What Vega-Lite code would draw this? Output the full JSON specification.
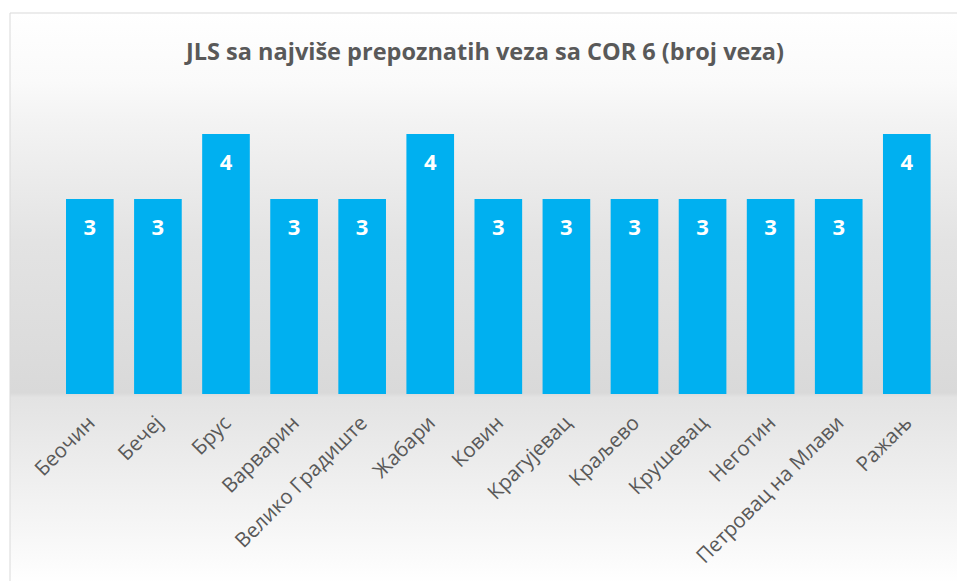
{
  "$schema": "https://vega.github.io/schema/vega-lite/v6.json",
  "width": 950,
  "height": 572,
  "autosize": {"type": "none"},
  "padding": {"left": 10, "top": 13, "right": 0, "bottom": 0},
  "background": "white",
  "config": {"view": {"stroke": "transparent"}},
  "title": {
    "text": "JLS sa najviše prepoznatih veza sa COR 6 (broj veza)",
    "font": "Open Sans",
    "fontSize": 23.5,
    "fontWeight": "bold",
    "color": "#595959",
    "anchor": "middle",
    "offset": -52
  },
  "data": {
    "values": [
      {"name": "Беочин", "value": 3},
      {"name": "Бечеј", "value": 3},
      {"name": "Брус", "value": 4},
      {"name": "Варварин", "value": 3},
      {"name": "Велико Градиште", "value": 3},
      {"name": "Жабари", "value": 4},
      {"name": "Ковин", "value": 3},
      {"name": "Крагујевац", "value": 3},
      {"name": "Краљево", "value": 3},
      {"name": "Крушевац", "value": 3},
      {"name": "Неготин", "value": 3},
      {"name": "Петровац на Млави", "value": 3},
      {"name": "Ражањ", "value": 4}
    ]
  },
  "encoding": {
    "x": {
      "field": "name",
      "type": "nominal",
      "sort": null,
      "axis": null,
      "scale": {"paddingInner": 0.3, "paddingOuter": 0.627, "align": 0.656}
    }
  },
  "layer": [
    {
      "data": {"values": [{}]},
      "mark": {
        "type": "rect",
        "stroke": "#d9d9d9",
        "strokeWidth": 1,
        "color": {
          "gradient": "linear",
          "x1": 0, "y1": 0, "x2": 0, "y2": 1,
          "stops": [
            {"offset": 0, "color": "#ffffff"},
            {"offset": 0.12, "color": "#fafafa"},
            {"offset": 0.19, "color": "#f3f3f3"},
            {"offset": 0.4, "color": "#e3e3e3"},
            {"offset": 0.664, "color": "#d9d9d9"},
            {"offset": 0.672, "color": "#e3e3e3"},
            {"offset": 0.77, "color": "#ebebeb"},
            {"offset": 0.9, "color": "#f6f6f6"},
            {"offset": 1, "color": "#ffffff"}
          ]
        }
      },
      "encoding": {"x": null}
    },
    {
      "mark": {"type": "bar", "color": "#00B0F0"},
      "encoding": {
        "y": {
          "field": "value",
          "type": "quantitative",
          "axis": null,
          "scale": {"domain": [-2.938, 5.8615], "nice": false, "zero": false}
        },
        "y2": {"datum": 0}
      }
    },
    {
      "mark": {
        "type": "text",
        "color": "white",
        "font": "Open Sans",
        "fontWeight": "bold",
        "fontSize": 22,
        "baseline": "middle",
        "dy": 29
      },
      "encoding": {
        "y": {"field": "value", "type": "quantitative"},
        "text": {"field": "value", "type": "quantitative"}
      }
    },
    {
      "mark": {
        "type": "text",
        "color": "#595959",
        "font": "Open Sans",
        "fontSize": 20.5,
        "angle": 315,
        "align": "right",
        "baseline": "middle",
        "xOffset": 2,
        "yOffset": 26
      },
      "encoding": {
        "y": {"datum": 0, "type": "quantitative"},
        "text": {"field": "name", "type": "nominal"}
      }
    }
  ]
}
